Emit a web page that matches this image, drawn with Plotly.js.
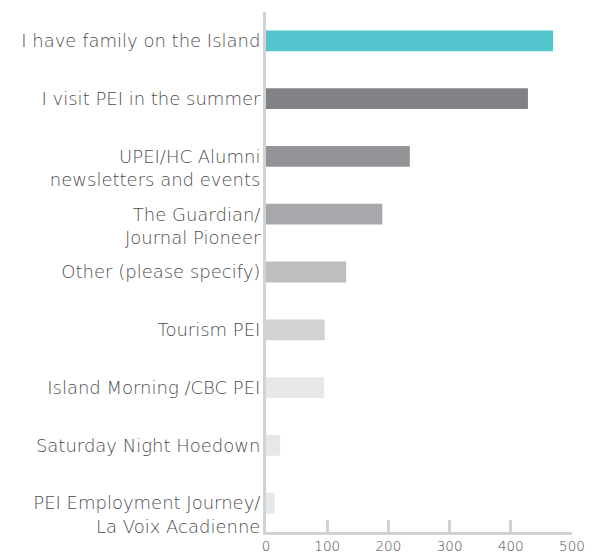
<!DOCTYPE html>
<html><head><meta charset="utf-8">
<script src="https://cdn.plot.ly/plotly-3.0.1.min.js"></script>
<style>html,body{margin:0;padding:0;background:#fff}#chart{width:595px;height:554px}</style>
</head><body><div id="chart"></div>
<script>
const categories = [
  "I have family on the Island",
  "I visit PEI in the summer",
  "\u00a0<br>UPEI/HC Alumni<br>newsletters and events",
  "\u00a0<br>The Guardian/<br>Journal Pioneer",
  "Other (please specify)",
  "Tourism PEI",
  "Island Morning /CBC PEI",
  "Saturday Night Hoedown",
  "\u00a0<br>PEI Employment Journey/<br>La Voix Acadienne"
];
const values = [469, 428, 235, 190, 131, 96, 95, 23, 14];
const barColors = ["#53C4CC", "#818285", "#939497", "#A7A8AB", "#BDBEC0", "#D1D2D4", "#E6E7E8", "#E6E7E8", "#E6E7E8"];
const xTicks = [0, 100, 200, 300, 400, 500];

Plotly.newPlot("chart", [{
  type: "bar", orientation: "h",
  x: values, y: categories,
  marker: {color: barColors},
  width: 0.36,
  hoverinfo: "none"
}], {
  width: 595, height: 554,
  margin: {l: 266, r: 23, t: 12, b: 22},
  paper_bgcolor: "#fff", plot_bgcolor: "#fff",
  font: {family: "DejaVu Sans, sans-serif", color: "#4D4D4F", weight: 200},
  showlegend: false,
  xaxis: {
    range: [0, 500], tickvals: xTicks, ticktext: xTicks.map(String),
    showgrid: false, zeroline: false,
    showline: true, linecolor: "#D1D2D4", linewidth: 3,
    ticks: "inside", ticklen: 12, tickwidth: 3, tickcolor: "#D1D2D4",
    tickfont: {size: 13.5, color: "#4D4D4F", family: "DejaVu Sans, sans-serif", weight: 200}, fixedrange: true
  },
  yaxis: {
    autorange: "reversed", showgrid: false, zeroline: false,
    showline: true, linecolor: "#D1D2D4", linewidth: 3,
    ticks: "", ticklabelstandoff: -1,
    tickfont: {size: 18, color: "#4D4D4F", family: "DejaVu Sans, sans-serif", weight: 200}, fixedrange: true
  }
}, {displayModeBar: false, staticPlot: true});
</script></body></html>
